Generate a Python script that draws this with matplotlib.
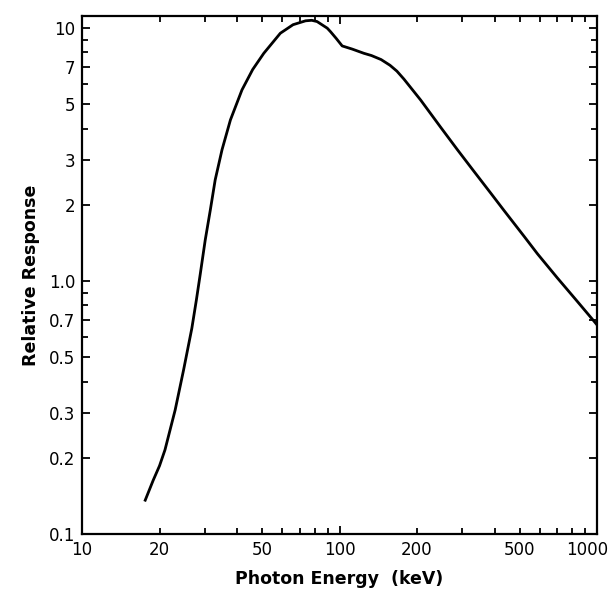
import numpy as np
import matplotlib
matplotlib.use("Agg")
import matplotlib.pyplot as plt
import matplotlib.transforms as mtransforms
from matplotlib.ticker import FixedLocator, NullFormatter

# curve
energy = [17.6, 18.9, 20.0, 21.0, 23.0, 24.8, 26.7, 27.8, 28.77, 30.1, 31.5, 32.9,
          34.97, 37.7, 41.8, 46.0, 50.8, 58.9, 66.0, 73.8, 78.0, 81.8, 89.6,
          92.3, 97.0, 102.4, 112.0, 124.3, 133.0, 145.0, 157.0, 167.0, 177.8, 206.5,
          247.0, 287.0, 330.0, 387.0, 435.0, 521.0, 587.0, 700.0, 830.0,
          977.0, 1000.0]
response = [0.136, 0.163, 0.186, 0.215, 0.309, 0.445, 0.65, 0.84, 1.06, 1.453, 1.909, 2.51,
            3.30, 4.33, 5.69, 6.85, 7.94, 9.53, 10.3, 10.67, 10.72, 10.6, 9.98,
            9.66, 9.1, 8.49, 8.25, 7.94, 7.78, 7.50, 7.12, 6.75, 6.28, 5.19,
            4.05, 3.30, 2.74, 2.22, 1.90, 1.50, 1.28, 1.03, 0.84,
            0.69, 0.67]

xticks = [10, 20, 50, 100, 200, 500, 1000]
xlabels = ["10", "20", "50", "100", "200", "500", "1000"]
yticks = [0.1, 0.2, 0.3, 0.5, 0.7, 1.0, 2, 3, 5, 7, 10]
ylabels = ["0.1", "0.2", "0.3", "0.5", "0.7", "1.0", "2", "3", "5", "7", "10"]

plt.rcParams['font.family'] = ['DejaVu Sans']

fig = plt.figure(figsize=(6.11, 5.92), dpi=100)
ax = fig.add_axes([0.1342, 0.098, 0.843, 0.875])

ax.plot(energy, response, color="black", lw=2.0, solid_joinstyle="round")

ax.set_xscale("log")
ax.set_yscale("log")
ax.set_xlim(10, 1000)
ax.set_ylim(0.1, 11.15)

ax.xaxis.set_major_locator(FixedLocator(xticks))
ax.set_xticklabels(xlabels)
ax.xaxis.set_minor_locator(FixedLocator([20, 30, 40, 50, 60, 70, 80, 90,
                                         200, 300, 400, 500, 600, 700, 800, 900]))
ax.xaxis.set_minor_formatter(NullFormatter())
ax.yaxis.set_major_locator(FixedLocator(yticks))
ax.set_yticklabels(ylabels)
ax.yaxis.set_minor_locator(FixedLocator([0.4, 0.6, 0.8, 0.9, 4, 6, 8, 9]))
ax.yaxis.set_minor_formatter(NullFormatter())

ax.tick_params(which="both", direction="in", top=True, right=True,
               width=1.3, labelsize=12)
ax.tick_params(which="major", length=6, pad=5)
ax.tick_params(which="minor", length=4)
for t in ax.xaxis.get_major_ticks():
    if t.get_loc() in (20, 50, 200, 500):
        t.tick1line.set_markersize(4)
        t.tick2line.set_markersize(4)
for s in ax.spines.values():
    s.set_linewidth(1.6)

# last x label sits close to the edge, nudge it left a bit
lab = ax.get_xticklabels()[-1]
lab.set_transform(lab.get_transform() +
                  mtransforms.ScaledTranslation(-0.1, 0, fig.dpi_scale_trans))

ax.set_xlabel("Photon Energy  (keV)", fontsize=12.5, fontweight="bold", labelpad=8)
ax.set_ylabel("Relative Response", fontsize=12.5, fontweight="bold", labelpad=6)

fig.savefig("out.png", dpi=100)
